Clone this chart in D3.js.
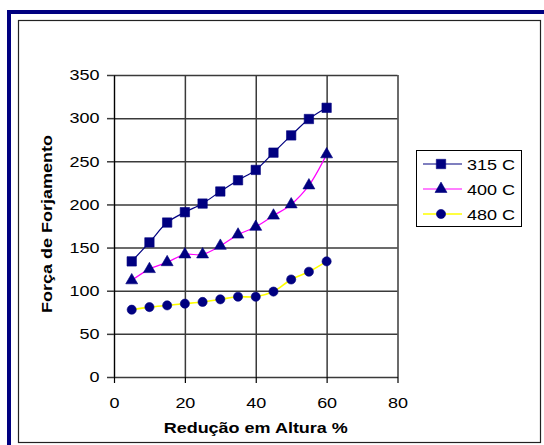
<!DOCTYPE html>
<html>
<head>
<meta charset="utf-8">
<script src="https://cdn.jsdelivr.net/npm/d3@7"></script>
<style>
  body { margin: 0; background: #fff; }
  text { font-family: "Liberation Sans", Arial, sans-serif; }
</style>
</head>
<body>
<script>
// dados
const reducao = [5, 10, 15, 20, 25, 30, 35, 40, 45, 50, 55, 60]
const forca315 = [134, 156, 179, 191, 201, 215, 228, 240, 260, 280, 299, 312]
const forca400 = [112, 125, 133, 142, 142, 152, 165, 174, 187, 200, 222, 258]
const forca480 = [78, 81, 83, 85, 87, 90, 93, 93, 99, 113, 122, 134]
const seriesNames = ["315 C", "400 C", "480 C"]
const xTicks = [0, 20, 40, 60, 80]
const yTicks = [0, 50, 100, 150, 200, 250, 300, 350]

const W = 544, H = 445
const SX = 1.2 // texto do excel e um pouco largo

const series = [
    { name: seriesNames[0], values: forca315, line: "#000080", marker: "square" },
    { name: seriesNames[1], values: forca400, line: "#ff00ff", marker: "triangle" },
    { name: seriesNames[2], values: forca480, line: "#ffff00", marker: "circle" }
]

const svg = d3.select("body").append("svg")
    .attr("width", W)
    .attr("height", H)

// moldura azul + borda preta
svg.append("rect")
    .attr("x", 9).attr("y", 12)
    .attr("width", W + 20).attr("height", H + 20)
    .attr("fill", "none")
    .attr("stroke", "#000080")
    .attr("stroke-width", 4)
svg.append("rect")
    .attr("x", 18.5).attr("y", 20.5)
    .attr("width", 522).attr("height", 422)
    .attr("fill", "#fff")
    .attr("stroke", "#222")
    .attr("stroke-width", 1.2)

const plot = { left: 114, right: 397.5, top: 75, bottom: 377 }

const x = d3.scaleLinear().domain([0, 80]).range([plot.left, plot.right])
const y = d3.scaleLinear().domain([0, 350]).range([plot.bottom, plot.top])

const g = svg.append("g")

// grade
g.append("g")
    .attr("transform", `translate(0,${plot.bottom})`)
    .call(d3.axisBottom(x).tickValues(xTicks.slice(1)).tickSize(-(plot.bottom - plot.top)).tickFormat(""))
    .call(a => a.select(".domain").remove())
    .selectAll("line").attr("stroke", "#3a3a3a").attr("stroke-width", 1.5)
g.append("g")
    .attr("transform", `translate(${plot.left},0)`)
    .call(d3.axisLeft(y).tickValues(yTicks.slice(1)).tickSize(-(plot.right - plot.left)).tickFormat(""))
    .call(a => a.select(".domain").remove())
    .selectAll("line").attr("stroke", "#3a3a3a").attr("stroke-width", 1.5)

// eixos
const yAxis = g.append("g")
    .attr("transform", `translate(${plot.left},0)`)
    .call(d3.axisLeft(y).tickValues(yTicks).tickSize(7).tickSizeOuter(0))
yAxis.select(".domain").attr("stroke", "#000").attr("stroke-width", 1.4)
yAxis.selectAll("line").attr("stroke", "#3a3a3a").attr("stroke-width", 1.5)
yAxis.selectAll("text")
    .attr("x", -14.5 / SX)
    .attr("transform", `scale(${SX},1)`)
    .attr("font-size", 15)
    .attr("fill", "#000")

const xAxis = g.append("g")
    .attr("transform", `translate(0,${plot.bottom})`)
    .call(d3.axisBottom(x).tickValues(xTicks).tickSize(6).tickSizeOuter(0))
xAxis.select(".domain").attr("stroke", "#3a3a3a").attr("stroke-width", 1.5)
xAxis.selectAll("line").attr("stroke", "#000").attr("stroke-width", 1.2)
xAxis.selectAll("text")
    .attr("y", 20)
    .attr("transform", `scale(${SX},1)`)
    .attr("font-size", 15)
    .attr("fill", "#000")
// corrige posicao x do texto depois do scale
xAxis.selectAll(".tick").each(function (d) {
    d3.select(this).select("text").attr("transform", null)
})
xAxis.selectAll("text").attr("transform", `scale(${SX},1)`).attr("x", 0)

// titulos
svg.append("text")
    .attr("transform", `translate(${(plot.left + plot.right) / 2},433) scale(${SX},1)`)
    .attr("text-anchor", "middle")
    .attr("font-size", 15)
    .attr("font-weight", "bold")
    .text("Redução em Altura %")

svg.append("text")
    .attr("transform", `translate(51.5,${(plot.top + plot.bottom) / 2 - 2}) rotate(-90) scale(${SX},1)`)
    .attr("text-anchor", "middle")
    .attr("font-size", 15)
    .attr("font-weight", "bold")
    .text("Força de Forjamento")

// linhas suavizadas
const line = d3.line()
    .x((d, i) => x(reducao[i]))
    .y(d => y(d))
    .curve(d3.curveCatmullRom.alpha(0.5))

const markerSym = {
    square: d3.symbol().type(d3.symbolSquare).size(88),
    triangle: d3.symbol().type(d3.symbolTriangle).size(62),
    circle: d3.symbol().type(d3.symbolCircle).size(66)
}

series.forEach(s => {
    g.append("path")
        .datum(s.values)
        .attr("d", line)
        .attr("fill", "none")
        .attr("stroke", s.line)
        .attr("stroke-width", s.marker == "circle" ? 1.6 : 1.2)

    g.selectAll(null)
        .data(s.values)
        .join("path")
        .attr("d", markerSym[s.marker])
        .attr("transform", (d, i) => `translate(${x(reducao[i])},${y(d)})`)
        .attr("fill", "#000080")
        .attr("stroke", "#000080")
        .attr("stroke-width", 0.6)
})

// legenda
const legend = svg.append("g")
legend.append("rect")
    .attr("x", 416.5).attr("y", 150.5)
    .attr("width", 105).attr("height", 76)
    .attr("fill", "#fff")
    .attr("stroke", "#000")
    .attr("stroke-width", 1)

const rowY = d3.scalePoint().domain(seriesNames).range([164, 214])

series.forEach(s => {
    const ly = rowY(s.name)
    legend.append("line")
        .attr("x1", 423).attr("x2", 462)
        .attr("y1", ly).attr("y2", ly)
        .attr("stroke", s.line)
        .attr("stroke-width", s.marker == "circle" ? 1.6 : 1.2)
    legend.append("path")
        .attr("d", markerSym[s.marker])
        .attr("transform", `translate(441,${ly})`)
        .attr("fill", "#000080")
        .attr("stroke", "#000080")
        .attr("stroke-width", 0.6)
    legend.append("text")
        .attr("transform", `translate(467,${ly + 5.5}) scale(${SX},1)`)
        .attr("font-size", 15)
        .text(s.name)
})
</script>
</body>
</html>
